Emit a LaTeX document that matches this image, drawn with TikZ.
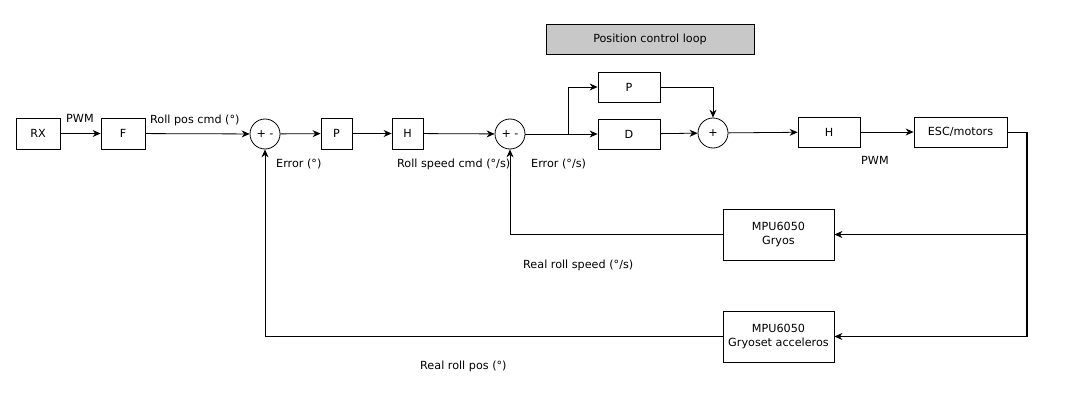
\documentclass[tikz,border=0pt]{standalone}
\usepackage{fontspec}
\setmainfont{DejaVu Sans}
\usetikzlibrary{arrows.meta,calc}
\begin{document}
\begin{tikzpicture}[x=1pt,y=-1pt,
  every node/.style={font=\fontsize{11.2}{13.5}\selectfont},
  blk/.style={draw,line width=0.8pt,inner sep=0pt,anchor=center},
  sumc/.style={draw,circle,line width=0.8pt,minimum size=30pt,inner sep=0pt},
  lbl/.style={anchor=west,inner sep=0pt},
  conn/.style={line width=0.8pt,-{Stealth[length=8pt,width=7pt]}},
  plain/.style={line width=0.8pt}]
\useasboundingbox (0,0) rectangle (1083,417);
\node[blk,fill={rgb,255:red,200;green,200;blue,200},minimum width=208pt,minimum height=30pt] (title) at (650,39) {Position control loop};
\node[blk,minimum width=44pt,minimum height=31pt] (rx) at (38,133.5) {RX};
\node[blk,minimum width=44pt,minimum height=31pt] (f) at (123,133.5) {F};
\node[sumc] (s1) at (265,134) {+ -};
\node[blk,minimum width=31pt,minimum height=31pt] (p1) at (336.5,133.5) {P};
\node[blk,minimum width=31pt,minimum height=31pt] (h1) at (407.5,133.5) {H};
\node[sumc] (s2) at (510,134) {+ -};
\node[blk,minimum width=62pt,minimum height=30pt] (p2) at (629,87) {P};
\node[blk,minimum width=62pt,minimum height=30pt] (d) at (629,134) {D};
\node[sumc] (s3) at (713,133) {+};
\node[blk,minimum width=62pt,minimum height=30pt] (h2) at (829,132) {H};
\node[blk,minimum width=93pt,minimum height=30pt] (esc) at (960.5,132) {ESC/motors};
\node[blk,minimum width=111pt,minimum height=51pt,align=center] (m1) at (778.5,234.5) {MPU6050\\Gryos};
\node[blk,minimum width=111pt,minimum height=51pt,align=center] (m2) at (778.5,336.5) {MPU6050\\Gryoset acceleros};
\coordinate (br) at (568,134);
\coordinate (rt) at (1027,132);
% labels
\node[lbl] (l1) at (66,118) {PWM};
\node[lbl] (l2) at (150,120) {Roll pos cmd (°)};
\node[lbl] (l3) at (276,164) {Error (°)};
\node[lbl] (l4) at (397,164) {Roll speed cmd (°/s)};
\node[lbl] (l5) at (531,164) {Error (°/s)};
\node[lbl] (l6) at (861,160) {PWM};
\node[lbl] (l7) at (523,265) {Real roll speed (°/s)};
\node[lbl] (l8) at (420,366) {Real roll pos (°)};
% connectors
\draw[conn] (rx) -- (f);
\draw[conn] (f) -- (s1);
\draw[conn] (s1) -- (p1);
\draw[conn] (p1) -- (h1);
\draw[conn] (h1) -- (s2);
\draw[plain] (s2) -- (br);
\draw[conn] (br) -- (d);
\draw[conn] (br) |- (p2);
\draw[conn] (p2) -| (s3);
\draw[conn] (d) -- (s3);
\draw[conn] (s3) -- (h2);
\draw[conn] (h2) -- (esc);
\draw[plain] (esc) -- (rt);
\draw[line width=1.6pt] (rt) -- (rt |- m2);
\draw[conn] (rt |- m1) -- (m1);
\draw[conn] (rt |- m2) -- (m2);
\draw[conn] (m1) -| (s2);
\draw[conn] (m2) -| (s1);
\end{tikzpicture}
\end{document}
